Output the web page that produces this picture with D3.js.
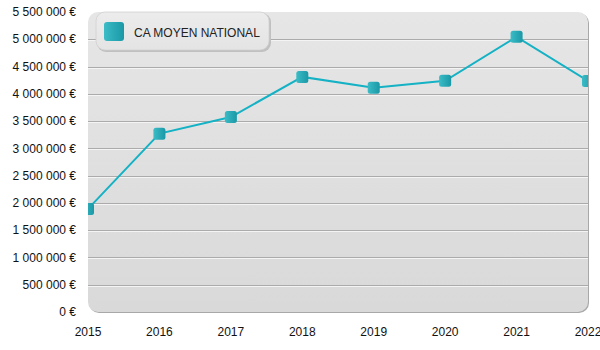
<!DOCTYPE html>
<html><head><meta charset="utf-8">
<script src="https://cdn.jsdelivr.net/npm/d3@7"></script>
<style>body{margin:0;background:#fff}svg{display:block}text{font-family:"Liberation Sans",Arial,sans-serif}</style>
</head><body><svg id="c" width="600" height="350"></svg>
<script>
const years = ["2015","2016","2017","2018","2019","2020","2021","2022"];
const caMoyen = [1890000, 3270000, 3575000, 4310000, 4110000, 4240000, 5045000, 4235000];
const yTicks = [0,500000,1000000,1500000,2000000,2500000,3000000,3500000,4000000,4500000,5000000,5500000];
const seriesName = "CA MOYEN NATIONAL";

const svg = d3.select("#c");
const L=88, R=588, T=12, B=312;
const x = d3.scalePoint().domain(years).range([L,R]);
const y = d3.scaleLinear().domain([0,5500000]).range([B,T]);
const fmt = v => d3.format(",")(v).replace(/,/g," ") + " €";

const defs = svg.append("defs");
const bg = defs.append("linearGradient").attr("id","bg").attr("x1",0).attr("y1",0).attr("x2",0).attr("y2",1);
bg.append("stop").attr("offset","0%").attr("stop-color","#e6e6e6");
bg.append("stop").attr("offset","100%").attr("stop-color","#d9d9d9");
const mg = defs.append("linearGradient").attr("id","mk").attr("x1",0).attr("y1",0).attr("x2",1).attr("y2",0);
mg.append("stop").attr("offset","0%").attr("stop-color","#3bbcc6");
mg.append("stop").attr("offset","100%").attr("stop-color","#1a98a6");
defs.append("clipPath").attr("id","clip").append("rect").attr("x",L).attr("y",T).attr("width",R-L).attr("height",B-T).attr("rx",10);
const lg = defs.append("linearGradient").attr("id","lg").attr("x1",0).attr("y1",0).attr("x2",0).attr("y2",1);
lg.append("stop").attr("offset","0%").attr("stop-color","#ececec");
lg.append("stop").attr("offset","100%").attr("stop-color","#e4e4e4");

// shadow
svg.append("rect").attr("x",L+1).attr("y",T+1).attr("width",R-L).attr("height",B-T).attr("rx",10).attr("fill","#a8a8a8");
svg.append("rect").attr("x",L).attr("y",T).attr("width",R-L).attr("height",B-T).attr("rx",10).attr("fill","url(#bg)");

const plot = svg.append("g").attr("clip-path","url(#clip)");
const grid = yTicks.filter(v=>v>0 && v<5500000);
plot.selectAll("line.g").data(grid).join("line").attr("class","g")
  .attr("x1",L).attr("x2",R).attr("y1",d=>Math.round(y(d))+0.5).attr("y2",d=>Math.round(y(d))+0.5)
  .attr("stroke","#ababab").attr("stroke-width",1);
plot.selectAll("line.h").data(grid).join("line").attr("class","h")
  .attr("x1",L).attr("x2",R).attr("y1",d=>Math.round(y(d))+1.5).attr("y2",d=>Math.round(y(d))+1.5)
  .attr("stroke","#f4f4f4").attr("stroke-width",1);

// legend
svg.append("rect").attr("x",97).attr("y",13).attr("width",174).attr("height",39).attr("rx",9).attr("fill","#c0c0c0");
svg.append("rect").attr("x",96).attr("y",12).attr("width",173).attr("height",38).attr("rx",9).attr("fill","url(#lg)").attr("stroke","#d0d0d0").attr("stroke-width",0.8);
svg.append("rect").attr("x",104).attr("y",22).attr("width",20).attr("height",19).attr("rx",3).attr("fill","url(#mk)");
svg.append("text").attr("x",134).attr("y",36.5).attr("font-size",12).attr("fill","#222").text(seriesName);

// line
const pts = years.map((yr,i)=>[x(yr), y(caMoyen[i])]);
plot.append("path").attr("d",d3.line()(pts)).attr("fill","none").attr("stroke","#14b2c4").attr("stroke-width",2);
plot.selectAll("rect.m").data(pts).join("rect").attr("class","m")
  .attr("x",d=>d[0]-6).attr("y",d=>d[1]-6).attr("width",12).attr("height",12).attr("rx",2.5)
  .attr("fill","url(#mk)");

// y labels
svg.selectAll("text.y").data(yTicks).join("text").attr("class","y")
  .attr("x",76).attr("y",d=>y(d)).attr("dy","0.35em").attr("text-anchor","end")
  .attr("font-size",12).attr("fill","#111").text(fmt);
// x labels
svg.selectAll("text.x").data(years).join("text").attr("class","x")
  .attr("x",d=>x(d)).attr("y",336).attr("text-anchor","middle")
  .attr("font-size",12).attr("fill","#111").text(d=>d);
</script></body></html>
